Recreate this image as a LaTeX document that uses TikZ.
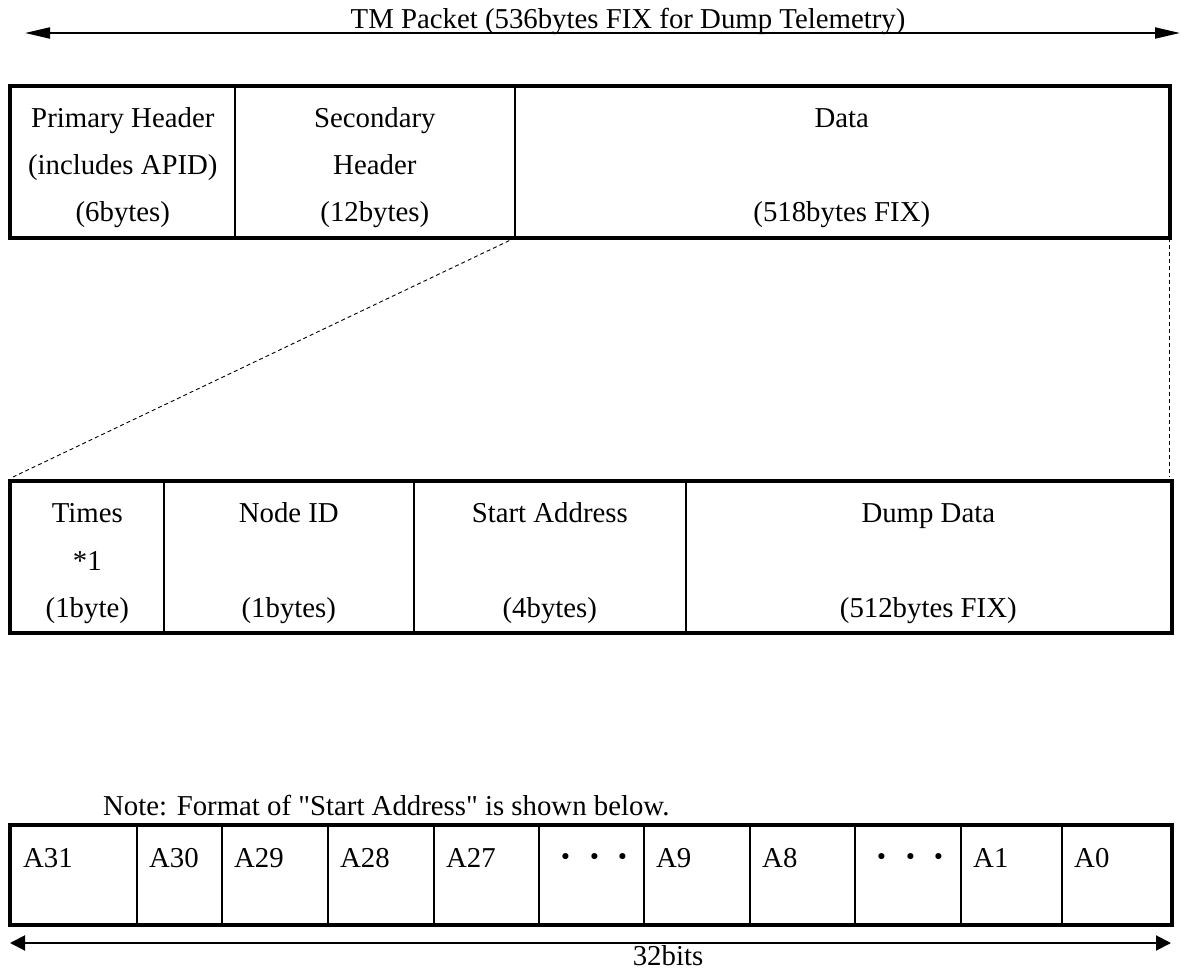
\documentclass[tikz,border=0pt]{standalone}
\usepackage{fontspec}
\setmainfont{Liberation Serif}
\newfontfamily\tnr{Liberation Serif}
\newfontfamily\cjk{Noto Sans CJK JP}
\usetikzlibrary{arrows.meta}
\tikzset{
  cell/.style={draw, line width=1.6pt, anchor=north west, inner sep=0pt},
  frame/.style={line width=4pt},
  txt/.style={inner sep=0pt, font=\tnr\fontsize{28.8}{34}\selectfont},
  guide/.style={line width=0.9pt, dash pattern=on 4pt off 3pt},
  bigarrow/.style={line width=2pt, {Triangle[length=25pt,width=11pt]}-{Triangle[length=25pt,width=11pt]}},
  smallarrow/.style={line width=2pt, {Triangle[length=15pt,width=15pt]}-{Triangle[length=15pt,width=15pt]}}
}
\begin{document}
\begin{tikzpicture}[x=1pt,y=-1pt]
\useasboundingbox (0,0) rectangle (1187,973);
% title arrow
\coordinate (tl) at (25,33);
\coordinate (tr) at (1180,33);
\draw[bigarrow] (tl) -- (tr);
\node[txt, anchor=base] (title) at (628,29) {TM Packet (536bytes FIX for Dump Telemetry)};
% top packet
\node[cell, minimum width=224pt, minimum height=150pt] (ph) at (10,86) {};
\node[cell, minimum width=280pt, minimum height=150pt] (sh) at (234,86) {};
\node[cell, minimum width=654pt, minimum height=150pt] (data) at (514,86) {};
\draw[frame] (ph.north west) rectangle (data.south east);
\node[txt, anchor=base] (ph1) at ([yshift=-42pt]ph.north) {Primary Header};
\node[txt, anchor=base] (ph2) at ([yshift=-89pt]ph.north) {(includes APID)};
\node[txt, anchor=base] (ph3) at ([yshift=-136pt]ph.north) {(6bytes)};
\node[txt, anchor=base] (sh1) at ([yshift=-42pt]sh.north) {Secondary};
\node[txt, anchor=base] (sh2) at ([yshift=-89pt]sh.north) {Header};
\node[txt, anchor=base] (sh3) at ([yshift=-136pt]sh.north) {(12bytes)};
\node[txt, anchor=base] (d1) at ([yshift=-42pt]data.north) {Data};
\node[txt, anchor=base] (d3) at ([yshift=-136pt]data.north) {(518bytes FIX)};
% data field
\node[cell, minimum width=153pt, minimum height=150pt] (times) at (10,481) {};
\node[cell, minimum width=250pt, minimum height=150pt] (nid) at (163,481) {};
\node[cell, minimum width=272pt, minimum height=150pt] (sa) at (413,481) {};
\node[cell, minimum width=485pt, minimum height=150pt] (dump) at (685,481) {};
\draw[frame] (times.north west) rectangle (dump.south east);
\node[txt, anchor=base] (t1) at ([yshift=-42pt]times.north) {Times};
\node[txt, anchor=base] (t2) at ([yshift=-89pt]times.north) {*1};
\node[txt, anchor=base] (t3) at ([yshift=-136pt]times.north) {(1byte)};
\node[txt, anchor=base] (n1) at ([yshift=-42pt]nid.north) {Node ID};
\node[txt, anchor=base] (n3) at ([yshift=-136pt]nid.north) {(1bytes)};
\node[txt, anchor=base] (s1) at ([yshift=-42pt]sa.north) {Start Address};
\node[txt, anchor=base] (s3) at ([yshift=-136pt]sa.north) {(4bytes)};
\node[txt, anchor=base] (u1) at ([yshift=-42pt]dump.north) {Dump Data};
\node[txt, anchor=base] (u3) at ([yshift=-136pt]dump.north) {(512bytes FIX)};
% expansion guides
\draw[guide] (sh.south east) -- ([shift={(3pt,4pt)}]times.north west);
\draw[guide] (data.south east) -- ([yshift=4pt]data.south east |- dump.north east);
% start address format
\node[txt, anchor=base west] (note) at (103,815) {Note: Format of "Start Address" is shown below.};
\foreach \n/\a/\b/\lab in {b31/10/136/A31, b30/136/221/A30, b29/221/327/A29, b28/327/433/A28, b27/433/538/A27, bd1/538/643/{\cjk ・・・}, b9/643/749/A9, b8/749/854/A8, bd2/854/960/{\cjk ・・・}, b1/960/1061/A1, b0/1061/1170/A0}{
  \pgfmathsetmacro{\w}{\b-\a}
  \node[cell, minimum width=\w pt, minimum height=98pt] (\n) at (\a,825) {};
  \node[txt, anchor=base west] (\n l) at ([xshift=13pt,yshift=-42pt]\n.north west) {\lab};
}
\draw[frame] (b31.north west) rectangle (b0.south east);
\coordinate (bl) at (10,943);
\coordinate (br) at (1171,943);
\draw[smallarrow] (bl) -- (br);
\node[txt, anchor=base] (bits) at (668,965) {32bits};
\end{tikzpicture}
\end{document}
